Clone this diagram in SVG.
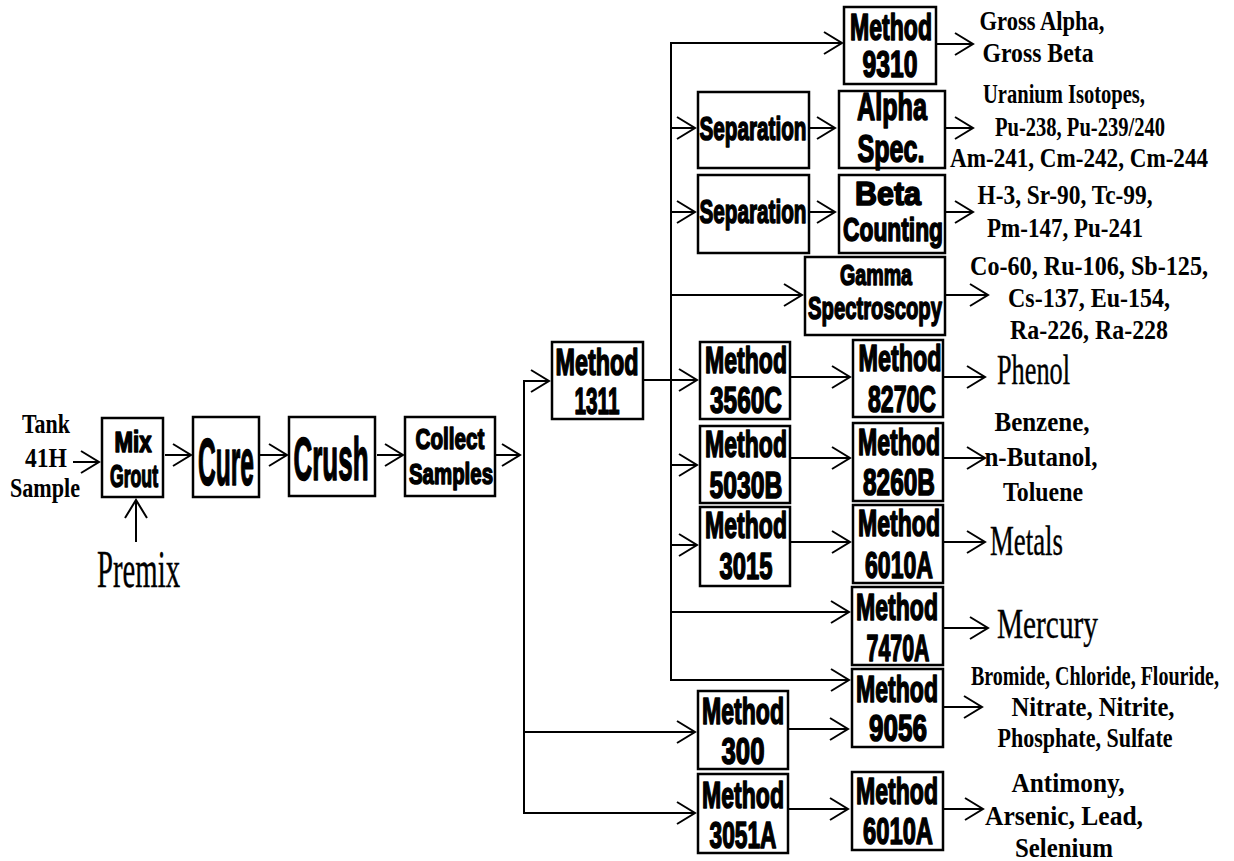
<svg xmlns="http://www.w3.org/2000/svg" width="1234" height="861" viewBox="0 0 1234 861">
<style>
.box{fill:#fff;stroke:#000;stroke-width:2.5}
.imp{font-family:"Liberation Sans Narrow","Liberation Sans",sans-serif;font-weight:bold;text-anchor:middle;fill:#000;stroke:#000;stroke-width:1.6;stroke-linejoin:round}
.m{font-size:37px}
.ser{font-family:"Liberation Serif","Times New Roman",serif;font-weight:bold;font-size:27px;text-anchor:middle;fill:#000}
.sn{font-family:"Liberation Serif","Times New Roman",serif;font-weight:normal;text-anchor:start;fill:#000;stroke:#000;stroke-width:0.4}
.ln{stroke:#000;stroke-width:2;fill:none}
.ar{stroke:#000;stroke-width:2;fill:none;marker-end:url(#ah)}
</style>
<defs>
<marker id="ah" markerUnits="userSpaceOnUse" markerWidth="24" markerHeight="26" refX="20" refY="13" orient="auto" viewBox="0 0 24 26"><path d="M2,2 L20,13 L2,24" fill="none" stroke="#000" stroke-width="2"/></marker>
</defs>
<rect width="1234" height="861" fill="#fff"/>

<g id="connectors">
<line class="ar" x1="73" y1="462" x2="99" y2="462"/>
<line class="ar" x1="136" y1="542" x2="136" y2="500"/>
<line class="ar" x1="165" y1="455" x2="191" y2="455"/>
<line class="ar" x1="260" y1="455" x2="287" y2="455"/>
<line class="ar" x1="377" y1="455" x2="403" y2="455"/>
<line class="ar" x1="496" y1="455" x2="520" y2="455"/>
<line class="ln" x1="524" y1="380" x2="524" y2="814"/>
<line class="ar" x1="523" y1="381" x2="549" y2="381"/>
<line class="ar" x1="523" y1="732" x2="695" y2="732"/>
<line class="ar" x1="523" y1="813" x2="695" y2="813"/>
<line class="ln" x1="671" y1="42" x2="671" y2="681"/>
<line class="ar" x1="643" y1="380" x2="697" y2="380"/>
<line class="ar" x1="670" y1="43" x2="842" y2="43"/>
<line class="ar" x1="670" y1="128" x2="695" y2="128"/>
<line class="ar" x1="670" y1="212" x2="695" y2="212"/>
<line class="ar" x1="670" y1="295" x2="802" y2="295"/>
<line class="ar" x1="670" y1="465" x2="697" y2="465"/>
<line class="ar" x1="670" y1="545" x2="697" y2="545"/>
<line class="ar" x1="670" y1="612" x2="849" y2="612"/>
<line class="ar" x1="670" y1="680" x2="849" y2="680"/>
<line class="ar" x1="809" y1="128" x2="835" y2="128"/>
<line class="ar" x1="809" y1="212" x2="835" y2="212"/>
<line class="ar" x1="790" y1="377" x2="850" y2="377"/>
<line class="ar" x1="790" y1="458" x2="850" y2="458"/>
<line class="ar" x1="790" y1="542" x2="850" y2="542"/>
<line class="ar" x1="788" y1="729" x2="848" y2="729"/>
<line class="ar" x1="788" y1="809" x2="848" y2="809"/>
<line class="ar" x1="936" y1="44" x2="973" y2="44"/>
<line class="ar" x1="945" y1="128" x2="973" y2="128"/>
<line class="ar" x1="945" y1="212" x2="973" y2="212"/>
<line class="ar" x1="945" y1="295" x2="988" y2="295"/>
<line class="ar" x1="943" y1="377" x2="985" y2="377"/>
<line class="ar" x1="943" y1="458" x2="985" y2="458"/>
<line class="ar" x1="943" y1="542" x2="985" y2="542"/>
<line class="ar" x1="943" y1="628" x2="988" y2="628"/>
<line class="ar" x1="943" y1="707" x2="982" y2="707"/>
<line class="ar" x1="943" y1="809" x2="983" y2="809"/>
</g>

<g id="tank">
<text class="ser" x="46" y="433" font-size="26" textLength="48" lengthAdjust="spacingAndGlyphs">Tank</text>
<text class="ser" x="46" y="467" font-size="26" textLength="42" lengthAdjust="spacingAndGlyphs">41H</text>
<text class="ser" x="45" y="497" font-size="26" textLength="70" lengthAdjust="spacingAndGlyphs">Sample</text>
</g>
<g id="premix">
<text class="sn" x="97" y="587" font-size="53" textLength="83" lengthAdjust="spacingAndGlyphs">Premix</text>
</g>
<g id="mix">
<rect class="box" x="102" y="418" width="61" height="79"/>
<text class="imp" x="133" y="452" font-size="29" textLength="37" lengthAdjust="spacingAndGlyphs">Mix</text>
<text class="imp" x="134" y="487" font-size="31" textLength="48" lengthAdjust="spacingAndGlyphs">Grout</text>
</g>
<g id="cure">
<rect class="box" x="193" y="417" width="66" height="80"/>
<text class="imp" x="226" y="485" font-size="67" textLength="56" lengthAdjust="spacingAndGlyphs">Cure</text>
</g>
<g id="crush">
<rect class="box" x="289" y="417" width="86" height="79"/>
<text class="imp" x="331" y="480" font-size="62" textLength="75" lengthAdjust="spacingAndGlyphs">Crush</text>
</g>
<g id="collect">
<rect class="box" x="405" y="417" width="90" height="79"/>
<text class="imp" x="450" y="449" font-size="30" textLength="69" lengthAdjust="spacingAndGlyphs">Collect</text>
<text class="imp" x="451" y="484" font-size="30" textLength="84" lengthAdjust="spacingAndGlyphs">Samples</text>
</g>
<g id="m1311">
<rect class="box" x="552" y="342" width="91" height="77"/>
<text class="imp m" x="597" y="375" textLength="83" lengthAdjust="spacingAndGlyphs">Method</text>
<text class="imp m" x="597" y="414" textLength="45" lengthAdjust="spacingAndGlyphs">1311</text>
</g>
<g id="m9310">
<rect class="box" x="844" y="7" width="92" height="77"/>
<text class="imp m" x="891" y="40" textLength="82" lengthAdjust="spacingAndGlyphs">Method</text>
<text class="imp m" x="890" y="77" textLength="55" lengthAdjust="spacingAndGlyphs">9310</text>
</g>
<g id="sep1">
<rect class="box" x="698" y="92" width="111" height="76"/>
<text class="imp" x="753" y="140" font-size="34" textLength="107" lengthAdjust="spacingAndGlyphs">Separation</text>
</g>
<g id="alpha">
<rect class="box" x="839" y="91" width="106" height="77"/>
<text class="imp" x="892" y="120" font-size="39" textLength="70" lengthAdjust="spacingAndGlyphs">Alpha</text>
<text class="imp" x="891" y="162" font-size="38" textLength="67" lengthAdjust="spacingAndGlyphs">Spec.</text>
</g>
<g id="sep2">
<rect class="box" x="698" y="175" width="111" height="78"/>
<text class="imp" x="753" y="223" font-size="34" textLength="107" lengthAdjust="spacingAndGlyphs">Separation</text>
</g>
<g id="beta">
<rect class="box" x="839" y="175" width="106" height="78"/>
<text class="imp" x="888" y="205" font-size="33" textLength="66" lengthAdjust="spacingAndGlyphs">Beta</text>
<text class="imp" x="893" y="241" font-size="33" textLength="100" lengthAdjust="spacingAndGlyphs">Counting</text>
</g>
<g id="gamma">
<rect class="box" x="805" y="257" width="140" height="78"/>
<text class="imp" x="876" y="285" font-size="30" textLength="72" lengthAdjust="spacingAndGlyphs">Gamma</text>
<text class="imp" x="875" y="319" font-size="32" textLength="134" lengthAdjust="spacingAndGlyphs">Spectroscopy</text>
</g>
<g id="m3560C">
<rect class="box" x="700" y="342" width="90" height="77"/>
<text class="imp m" x="746" y="373" textLength="82" lengthAdjust="spacingAndGlyphs">Method</text>
<text class="imp m" x="746" y="413" textLength="72" lengthAdjust="spacingAndGlyphs">3560C</text>
</g>
<g id="m8270C">
<rect class="box" x="853" y="340" width="90" height="77"/>
<text class="imp m" x="900" y="371" textLength="83" lengthAdjust="spacingAndGlyphs">Method</text>
<text class="imp m" x="902" y="412" textLength="68" lengthAdjust="spacingAndGlyphs">8270C</text>
</g>
<g id="m5030B">
<rect class="box" x="700" y="426" width="90" height="77"/>
<text class="imp m" x="746" y="457" textLength="82" lengthAdjust="spacingAndGlyphs">Method</text>
<text class="imp m" x="746" y="498" textLength="73" lengthAdjust="spacingAndGlyphs">5030B</text>
</g>
<g id="m8260B">
<rect class="box" x="853" y="423" width="90" height="78"/>
<text class="imp m" x="899" y="455" textLength="82" lengthAdjust="spacingAndGlyphs">Method</text>
<text class="imp m" x="899" y="495" textLength="72" lengthAdjust="spacingAndGlyphs">8260B</text>
</g>
<g id="m3015">
<rect class="box" x="700" y="507" width="90" height="79"/>
<text class="imp m" x="746" y="538" textLength="82" lengthAdjust="spacingAndGlyphs">Method</text>
<text class="imp m" x="746" y="579" textLength="53" lengthAdjust="spacingAndGlyphs">3015</text>
</g>
<g id="m6010A">
<rect class="box" x="853" y="505" width="90" height="78"/>
<text class="imp m" x="899" y="536" textLength="82" lengthAdjust="spacingAndGlyphs">Method</text>
<text class="imp m" x="899" y="578" textLength="68" lengthAdjust="spacingAndGlyphs">6010A</text>
</g>
<g id="m7470A">
<rect class="box" x="852" y="587" width="91" height="78"/>
<text class="imp m" x="897" y="620" textLength="82" lengthAdjust="spacingAndGlyphs">Method</text>
<text class="imp m" x="898" y="661" textLength="63" lengthAdjust="spacingAndGlyphs">7470A</text>
</g>
<g id="m9056">
<rect class="box" x="852" y="669" width="91" height="78"/>
<text class="imp m" x="897" y="702" textLength="82" lengthAdjust="spacingAndGlyphs">Method</text>
<text class="imp m" x="898" y="741" textLength="58" lengthAdjust="spacingAndGlyphs">9056</text>
</g>
<g id="m300">
<rect class="box" x="698" y="691" width="90" height="78"/>
<text class="imp m" x="743" y="724" textLength="82" lengthAdjust="spacingAndGlyphs">Method</text>
<text class="imp m" x="743" y="764" textLength="43" lengthAdjust="spacingAndGlyphs">300</text>
</g>
<g id="m3051A">
<rect class="box" x="698" y="774" width="90" height="79"/>
<text class="imp m" x="743" y="808" textLength="82" lengthAdjust="spacingAndGlyphs">Method</text>
<text class="imp m" x="743" y="848" textLength="67" lengthAdjust="spacingAndGlyphs">3051A</text>
</g>
<g id="m6010A-2">
<rect class="box" x="852" y="772" width="91" height="78"/>
<text class="imp m" x="897" y="804" textLength="82" lengthAdjust="spacingAndGlyphs">Method</text>
<text class="imp m" x="898" y="844" textLength="70" lengthAdjust="spacingAndGlyphs">6010A</text>
</g>

<g id="out-9310">
<text class="ser" x="1042" y="30" textLength="125" lengthAdjust="spacingAndGlyphs">Gross Alpha,</text>
<text class="ser" x="1038" y="62" textLength="111" lengthAdjust="spacingAndGlyphs">Gross Beta</text>
</g>
<g id="out-alpha">
<text class="ser" x="1064" y="103" textLength="162" lengthAdjust="spacingAndGlyphs">Uranium Isotopes,</text>
<text class="ser" x="1080" y="136" textLength="170" lengthAdjust="spacingAndGlyphs">Pu-238, Pu-239/240</text>
<text class="ser" x="1079" y="167" textLength="258" lengthAdjust="spacingAndGlyphs">Am-241, Cm-242, Cm-244</text>
</g>
<g id="out-beta">
<text class="ser" x="1065" y="204" textLength="175" lengthAdjust="spacingAndGlyphs">H-3, Sr-90, Tc-99,</text>
<text class="ser" x="1065" y="237" textLength="156" lengthAdjust="spacingAndGlyphs">Pm-147, Pu-241</text>
</g>
<g id="out-gamma">
<text class="ser" x="1089" y="275" textLength="238" lengthAdjust="spacingAndGlyphs">Co-60, Ru-106, Sb-125,</text>
<text class="ser" x="1089" y="307" textLength="162" lengthAdjust="spacingAndGlyphs">Cs-137, Eu-154,</text>
<text class="ser" x="1089" y="339" textLength="158" lengthAdjust="spacingAndGlyphs">Ra-226, Ra-228</text>
</g>
<g id="out-8270C">
<text class="sn" x="997" y="384" font-size="42" textLength="73" lengthAdjust="spacingAndGlyphs">Phenol</text>
</g>
<g id="out-8260B">
<text class="ser" x="1042" y="431" textLength="95" lengthAdjust="spacingAndGlyphs">Benzene,</text>
<text class="ser" x="1041" y="466" textLength="113" lengthAdjust="spacingAndGlyphs">n-Butanol,</text>
<text class="ser" x="1043" y="501" textLength="80" lengthAdjust="spacingAndGlyphs">Toluene</text>
</g>
<g id="out-6010A">
<text class="sn" x="990" y="555" font-size="42" textLength="73" lengthAdjust="spacingAndGlyphs">Metals</text>
</g>
<g id="out-7470A">
<text class="sn" x="997" y="638" font-size="42" textLength="101" lengthAdjust="spacingAndGlyphs">Mercury</text>
</g>
<g id="out-9056">
<text class="ser" x="1095" y="685" textLength="248" lengthAdjust="spacingAndGlyphs">Bromide, Chloride, Flouride,</text>
<text class="ser" x="1093" y="716" textLength="163" lengthAdjust="spacingAndGlyphs">Nitrate, Nitrite,</text>
<text class="ser" x="1085" y="747" textLength="175" lengthAdjust="spacingAndGlyphs">Phosphate, Sulfate</text>
</g>
<g id="out-6010A-2">
<text class="ser" x="1068" y="792" textLength="113" lengthAdjust="spacingAndGlyphs">Antimony,</text>
<text class="ser" x="1064" y="825" textLength="158" lengthAdjust="spacingAndGlyphs">Arsenic, Lead,</text>
<text class="ser" x="1064" y="857" textLength="98" lengthAdjust="spacingAndGlyphs">Selenium</text>
</g>
</svg>
